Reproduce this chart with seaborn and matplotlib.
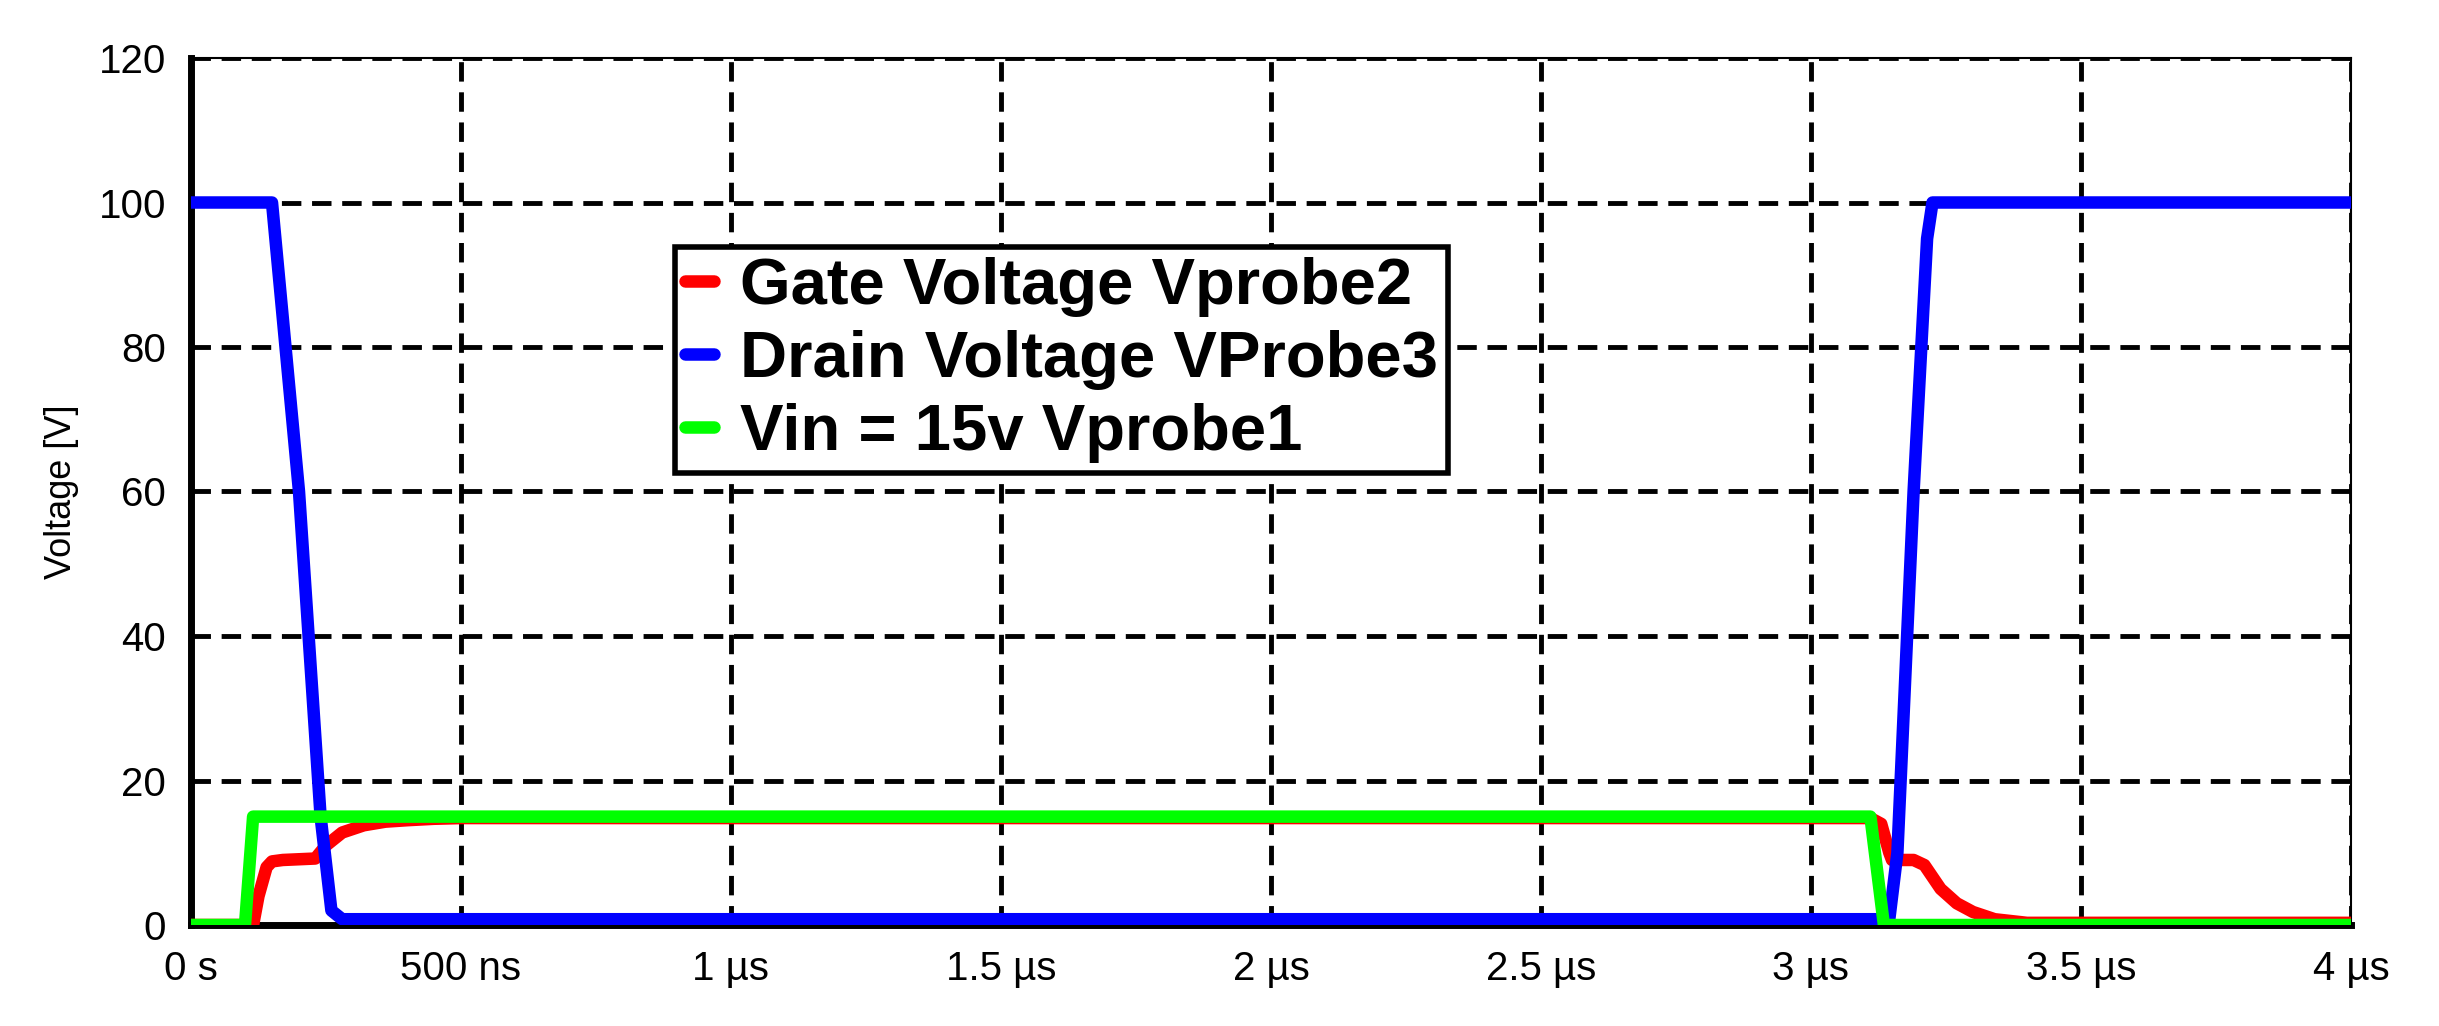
import matplotlib
matplotlib.use("Agg")
import matplotlib.pyplot as plt
import seaborn as sns
import pandas as pd
from matplotlib.ticker import FixedLocator

# time in ns
t_vin = [0, 100, 115, 3110, 3135, 4000]
v_vin = [0, 0, 15, 15, 0, 0]
t_gate = [0, 115, 125, 140, 150, 170, 230, 250, 280, 320, 360, 400, 450, 500, 3110, 3130, 3145, 3150, 3190, 3210, 3240, 3270, 3300, 3340, 3400, 4000]
v_gate = [0, 0, 4, 8, 8.8, 9, 9.2, 11, 12.8, 13.8, 14.3, 14.5, 14.7, 14.8, 14.8, 14, 10, 9, 9, 8.3, 5, 3, 1.8, 0.8, 0.3, 0.3]
t_drain = [0, 150, 200, 240, 260, 280, 3145, 3160, 3190, 3215, 3225, 4000]
v_drain = [100, 100, 60, 15, 2, 0.8, 0.8, 10, 60, 95, 100, 100]
labels = ["Gate Voltage Vprobe2", "Drain Voltage VProbe3", "Vin = 15v Vprobe1"]
xticks = [0, 500, 1000, 1500, 2000, 2500, 3000, 3500, 4000]
xticklabels = ["0 s", "500 ns", "1 µs", "1.5 µs", "2 µs", "2.5 µs", "3 µs", "3.5 µs", "4 µs"]
yticks = [0, 20, 40, 60, 80, 100, 120]

sns.set_style("white")
plt.rcParams['font.family'] = ['Liberation Sans', 'DejaVu Sans']
plt.rcParams['text.color'] = 'black'
plt.rcParams['axes.labelcolor'] = 'black'
plt.rcParams['xtick.color'] = 'black'
plt.rcParams['ytick.color'] = 'black'

fig = plt.figure(figsize=(24.39, 10.26), dpi=100)
ax = fig.add_axes([191/2439, 1-925/1026, (2351-191)/2439, (925-58)/1026])

sns.lineplot(x=t_gate, y=v_gate, ax=ax, color="#ff0000", lw=9, label=labels[0], zorder=3)
sns.lineplot(x=t_drain, y=v_drain, ax=ax, color="#0000ff", lw=9, label=labels[1], zorder=4)
sns.lineplot(x=t_vin, y=v_vin, ax=ax, color="#00ff00", lw=9, label=labels[2], zorder=5)

ax.set_xlim(0, 4000)
ax.set_ylim(0, 120)
ax.xaxis.set_major_locator(FixedLocator(xticks))
ax.set_xticklabels(xticklabels, fontsize=29)
ax.set_yticks(yticks)
ax.set_yticklabels([str(v) for v in yticks], fontsize=29)
ax.set_ylabel("Voltage [V]", fontsize=26, labelpad=14)
ax.grid(True, color="black", ls=(0, (4, 2.2)), lw=3.5)
for s in ["top", "right"]:
    ax.spines[s].set_linewidth(1.5)
    ax.spines[s].set_color("black")
for s in ["left", "bottom"]:
    ax.spines[s].set_linewidth(5)
    ax.spines[s].set_color("black")
ax.tick_params(axis="both", direction="out", length=12, width=4, color="black", pad=6)

leg = ax.legend(loc="upper left", bbox_to_anchor=((675-191)/(2351-191), 1-(247-58)/(925-58)),
                prop={"weight": "bold", "size": 47}, frameon=True, fancybox=False,
                handlelength=0.45, handletextpad=0.4, borderpad=0.15, labelspacing=0.2,
                borderaxespad=0)
leg.get_frame().set_edgecolor("black")
leg.get_frame().set_linewidth(4)
leg.get_frame().set_alpha(1)

fig.savefig("out.png", dpi=100)
